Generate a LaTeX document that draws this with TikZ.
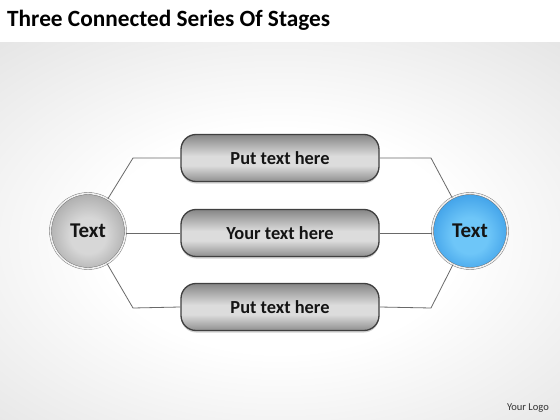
\documentclass[tikz,border=0pt]{standalone}
\usepackage{fontspec}
\setmainfont{Carlito}
\usetikzlibrary{shadows,fadings}
\definecolor{pillA}{RGB}{55,55,55}
\definecolor{pillB}{RGB}{88,88,88}
\definecolor{pillC}{RGB}{130,130,130}
\definecolor{pillD}{RGB}{220,220,220}
\definecolor{pillE}{RGB}{160,160,160}
\definecolor{orbG1}{RGB}{215,215,215}
\definecolor{orbG2}{RGB}{160,160,160}
\definecolor{orbG3}{RGB}{95,95,95}
\definecolor{orbB1}{RGB}{110,198,248}
\definecolor{orbB2}{RGB}{50,150,228}
\definecolor{orbB3}{RGB}{20,95,175}
\definecolor{txt}{RGB}{20,20,20}
\definecolor{linec}{RGB}{105,105,105}
\definecolor{bgout}{RGB}{218,218,218}
\pgfdeclareverticalshading{pillshade}{100bp}{color(0bp)=(pillA); color(6bp)=(pillB); color(22bp)=(pillC); color(42bp)=(pillD); color(52bp)=(pillD); color(76bp)=(pillC); color(91bp)=(pillB); color(96bp)=(pillE); color(100bp)=(pillE)}
\pgfdeclareradialshading{bgshade}{\pgfpoint{0bp}{0bp}}{color(0bp)=(white); color(14bp)=(white); color(42bp)=(bgout); color(50bp)=(bgout)}
\pgfdeclareradialshading{orbgray}{\pgfpoint{0bp}{-4bp}}{color(0bp)=(orbG1); color(12bp)=(orbG1); color(32bp)=(orbG2); color(50bp)=(orbG3)}
\pgfdeclareradialshading{orbblue}{\pgfpoint{0bp}{-4bp}}{color(0bp)=(orbB1); color(12bp)=(orbB1); color(32bp)=(orbB2); color(50bp)=(orbB3)}
\pgfdeclarehorizontalshading{endsh}{100bp}{color(0bp)=(pgftransparent!50); color(16bp)=(pgftransparent); color(84bp)=(pgftransparent); color(100bp)=(pgftransparent!50)}
\pgfdeclarefading{endsfade}{\pgfuseshading{endsh}}
\tikzset{
  pill/.style={shading=pillshade, draw=black!75, line width=1.3pt,
    rounded corners=15pt, minimum width=198pt, minimum height=47pt,
    inner sep=0pt, font=\bfseries\fontsize{18.4}{20}\selectfont, text=txt,
    drop shadow={shadow xshift=0pt, shadow yshift=-2pt, opacity=0.35},
    path picture={\fill[black, path fading=endsfade] (path picture bounding box.south west) rectangle (path picture bounding box.north east);}},
  orb/.style={circle, minimum size=75pt, inner sep=0pt,
    draw=black!60, double=black!6, double distance=1.6pt,
    font=\bfseries\fontsize{21}{24}\selectfont, text=txt},
  conn/.style={draw=linec, line width=0.8pt}
}
\begin{document}
\begin{tikzpicture}[x=1pt,y=-1pt]
\useasboundingbox (0,0) rectangle (560,420);
\fill[white] (0,0) rectangle (560,420);
\shade[shading=bgshade] (-40,42) rectangle (600,440);
\fill[white] (0,0) rectangle (560,42);
\node[anchor=base west, font=\bfseries\fontsize{23.3}{26}\selectfont, text=black, inner sep=0pt] (title) at (7,27) {Three Connected Series Of Stages};
\node[anchor=base east, font=\fontsize{10.5}{12}\selectfont, text=black!80, inner sep=0pt] (logo) at (549,410) {Your Logo};

\node[pill] (p1) at (280,158) {Put text here};
\node[pill] (p2) at (280,233) {Your text here};
\node[pill] (p3) at (280,307) {Put text here};

\node[orb, shading=orbgray] (lc) at (88,231) {Text};
\node[orb, shading=orbblue] (rc) at (470,231) {Text};

\coordinate (el1) at (133,158);
\coordinate (el3) at (133,308);
\coordinate (er1) at (431,158);
\coordinate (er3) at (431,308);

\draw[conn] (p1.west) -- (el1) -- (lc);
\draw[conn] (p3.west) -- (el3) -- (lc);
\draw[conn] (lc.east |- p2.west) -- (p2.west);
\draw[conn] (p1.east) -- (er1) -- (rc);
\draw[conn] (p3.east) -- (er3) -- (rc);
\draw[conn] (p2.east) -- (rc.west |- p2.east);
\end{tikzpicture}
\end{document}
